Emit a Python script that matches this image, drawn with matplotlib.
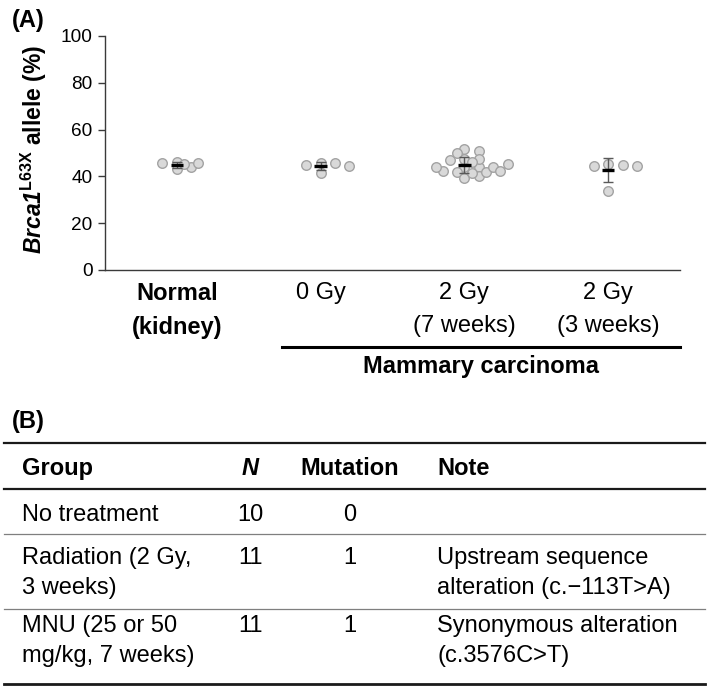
import numpy as np
import matplotlib
matplotlib.use("Agg")
import matplotlib.pyplot as plt
from matplotlib.lines import Line2D

plt.rcParams['font.family'] = ['Liberation Sans', 'DejaVu Sans']
plt.rcParams['mathtext.fontset'] = 'custom'
plt.rcParams['mathtext.rm'] = 'Liberation Sans:bold:italic'
plt.rcParams['mathtext.bf'] = 'Liberation Sans:bold'
plt.rcParams['mathtext.it'] = 'Liberation Sans:bold:italic'

# ---------------- data (panel A) ----------------
groups = ['Normal\n(kidney)', '0 Gy', '2 Gy\n(7 weeks)', '2 Gy\n(3 weeks)']
normal_kidney = [45.8, 44.0, 46.3, 43.0, 45.2, 45.6]
gy0 = [45.0, 45.6, 41.3, 45.6, 44.6]
gy2_7w = [44.2, 44.2, 47.0, 42.4, 50.9, 45.2, 40.2, 47.6, 41.9, 51.7,
          39.5, 47.6, 41.9, 49.9, 44.2, 41.3, 46.3, 42.4, 44.2]
gy2_3w = [44.6, 44.6, 45.4, 44.9, 33.6]
yticks = [0, 20, 40, 60, 80, 100]
bracket_label = 'Mammary carcinoma'

# ---------------- data (panel B) ----------------
tbl_header = ['Group', 'N', 'Mutation', 'Note']
tbl_group = ['No treatment', 'Radiation (2 Gy,\n3 weeks)', 'MNU (25 or 50\nmg/kg, 7 weeks)']
tbl_n = [10, 11, 11]
tbl_mut = [0, 1, 1]
tbl_note = ['', 'Upstream sequence\nalteration (c.\u2212113T>A)',
            'Synonymous alteration\n(c.3576C>T)']

# ---------------- figure ----------------
W, H = 709, 690
fig = plt.figure(figsize=(W / 100, H / 100), dpi=100)
def fx(x): return x / W
def fy(y): return 1 - y / H

ax = fig.add_axes([fx(105), fy(270), (680 - 105) / W, (270 - 36) / H])
ax.set_xlim(-0.5, 3.5)
ax.set_ylim(0, 100)


def beeswarm(ax, values, center, diam_px, step_px):
    """Place points on discrete horizontal offsets, most extreme values first."""
    vals = np.asarray(values, float)
    order = np.argsort(-np.abs(vals - vals.mean()), kind='stable')
    pts = ax.transData.transform(np.column_stack([np.full_like(vals, center), vals]))
    ypx = pts[:, 1]
    cx = pts[0, 0]
    placed = []
    xpx = np.zeros_like(vals)
    for idx in order:
        k = 0
        pos = None
        while pos is None:
            cands = [0] if k == 0 else [k, -k]
            for c in cands:
                x = cx + c * step_px
                if all((x - px) ** 2 + (ypx[idx] - py) ** 2 >= diam_px ** 2 for px, py in placed):
                    pos = x
                    break
            k += 1
        xpx[idx] = pos
        placed.append((pos, ypx[idx]))
    return ax.transData.inverted().transform(np.column_stack([xpx, ypx]))[:, 0]


series = [normal_kidney, gy0, gy2_7w, gy2_3w]
for i, v in enumerate(series):
    xs = beeswarm(ax, v, i, diam_px=7.6, step_px=7.2)
    ax.scatter(xs, v, s=6.9 ** 2, c='#d9d9d9', edgecolors='#a3a3a3',
               linewidths=1.0, zorder=3)
    m = np.mean(v)
    sd = np.std(v, ddof=1)
    ax.errorbar(i, m, yerr=sd, fmt='none', ecolor='#595959', elinewidth=1.0,
                capsize=3.3, capthick=1.0, zorder=4)
    ax.hlines(m, i - 0.043, i + 0.043, color='black', lw=2.4, zorder=5)

ax.set_yticks(yticks)
for s in ['top', 'right']:
    ax.spines[s].set_visible(False)
for s in ['left', 'bottom']:
    ax.spines[s].set_color('#3a3a3a')
    ax.spines[s].set_linewidth(1.0)
ax.tick_params(axis='y', labelsize=13.7, length=5, width=1.0, color='#3a3a3a', pad=4)
ax.tick_params(axis='x', labelsize=17, length=0, pad=9)
ax.set_xticks(range(len(groups)))
ax.set_xticklabels(groups, linespacing=1.6)
ax.get_xticklabels()[0].set_fontweight('bold')

fig.text(fx(34), fy(149), r'$Brca1^{\mathbf{L63X}}$ allele (%)',
         rotation=90, ha='center', va='center', fontsize=16.5, fontweight='bold')
fig.text(fx(12), fy(27), '(A)', fontsize=17, fontweight='bold', va='baseline')

# bracket for mammary carcinoma
fig.add_artist(Line2D([fx(282), fx(680)], [fy(347), fy(347)], color='black', lw=2.2))
fig.text(fx(481), fy(373), bracket_label, fontsize=17, fontweight='bold',
         ha='center', va='baseline')

# ---------------- panel B table ----------------
fig.text(fx(12), fy(428), '(B)', fontsize=17, fontweight='bold', va='baseline')
lx0, lx1 = fx(4), fx(705)
for y, lw, c in [(443, 1.6, '#1a1a1a'), (489, 1.6, '#1a1a1a'), (534, 0.9, '#7f7f7f'),
                 (609, 0.9, '#7f7f7f'), (684, 2.0, '#1a1a1a')]:
    fig.add_artist(Line2D([lx0, lx1], [fy(y), fy(y)], color=c, lw=lw))

col_x = [22, 250, 350, 437]
col_ha = ['left', 'center', 'center', 'left']
fs = 17
for j, h in enumerate(tbl_header):
    fig.text(fx(col_x[j]), fy(475), h, fontsize=fs, fontweight='bold',
             fontstyle='italic' if h == 'N' else 'normal', ha=col_ha[j], va='baseline')

row_base = [[521], [564, 594], [632, 662]]
for r in range(len(tbl_group)):
    cells = [tbl_group[r], str(tbl_n[r]), str(tbl_mut[r]), tbl_note[r]]
    for j, cell in enumerate(cells):
        for k, line in enumerate(cell.split('\n')):
            if line:
                fig.text(fx(col_x[j]), fy(row_base[r][k]), line, fontsize=fs,
                         ha=col_ha[j], va='baseline')

fig.savefig('out.png', dpi=100)
